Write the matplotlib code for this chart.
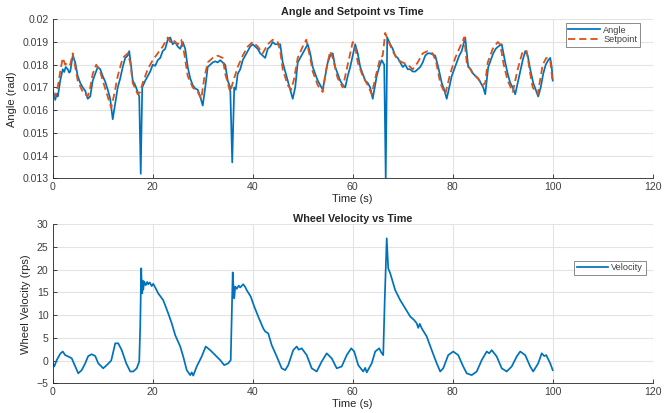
import matplotlib
matplotlib.use("Agg")
import matplotlib.pyplot as plt

# ---- data: (time s, value) ----
angle_points = [
    (0, 0.01689), (0.3, 0.01665), (0.5, 0.01645), (0.8, 0.01672), (1, 0.0166), (1.3, 0.0170),
    (1.5, 0.0173), (2, 0.0178), (2.3, 0.01768), (2.6, 0.0179), (3, 0.0178), (3.3, 0.01765),
    (3.5, 0.0177), (4, 0.0184), (4.5, 0.0181), (5, 0.0175), (5.5, 0.0172), (6, 0.0170),
    (6.5, 0.01685), (7, 0.0165), (7.5, 0.0166), (8, 0.0173), (8.5, 0.0176), (9, 0.0179),
    (9.5, 0.0178), (10, 0.0175), (10.5, 0.01725), (11, 0.0169), (11.5, 0.0165), (12, 0.0156),
    (12.5, 0.0163), (13, 0.0170), (13.5, 0.0174), (14, 0.0179), (14.5, 0.0183), (15, 0.0184),
    (15.3, 0.0186), (15.7, 0.0179), (16, 0.0173), (16.5, 0.0171), (17, 0.0168), (17.3, 0.0166),
    (17.6, 0.0132), (17.9, 0.0170), (18.2, 0.01715), (18.5, 0.0173), (19, 0.0175), (19.5, 0.0177),
    (20, 0.0180), (20.5, 0.01795), (21, 0.0182), (21.5, 0.0183), (22, 0.0186), (22.5, 0.0187),
    (23, 0.0191), (23.5, 0.0192), (24, 0.0189), (24.5, 0.0190), (25, 0.0188), (25.5, 0.0187),
    (26, 0.0190), (26.5, 0.0187), (27, 0.0179), (27.5, 0.0174), (28, 0.0171), (28.5, 0.01695),
    (29, 0.0169), (29.5, 0.0166), (30, 0.0162), (30.5, 0.0170), (31, 0.0179), (31.5, 0.0180),
    (32, 0.0181), (32.5, 0.01815), (33, 0.0181), (33.5, 0.0182), (34, 0.0181), (34.5, 0.0180),
    (35, 0.0173), (35.5, 0.0170), (35.9, 0.0137), (36.3, 0.0170), (36.6, 0.0169), (37, 0.0176),
    (37.5, 0.0178), (38, 0.0182), (38.5, 0.0184), (39, 0.0186), (39.5, 0.0188), (40, 0.0189),
    (40.5, 0.0188), (41, 0.0187), (41.5, 0.0185), (42, 0.0184), (42.5, 0.0183), (43, 0.0187),
    (43.5, 0.0188), (44, 0.0190), (44.5, 0.0189), (45, 0.0189), (45.5, 0.0189), (46, 0.0181),
    (46.5, 0.0177), (47, 0.0173), (47.5, 0.0169), (48, 0.0165), (48.5, 0.0170), (49, 0.0181),
    (49.5, 0.0183), (50, 0.0185), (50.5, 0.0187), (51, 0.0189), (51.5, 0.0185), (52, 0.0179),
    (52.5, 0.0176), (53, 0.0173), (53.5, 0.0171), (54, 0.0169), (54.5, 0.0175), (55, 0.0181),
    (55.5, 0.0184), (56, 0.0185), (56.5, 0.0179), (57, 0.0176), (57.5, 0.0173), (58, 0.0171),
    (58.5, 0.0170), (59, 0.0175), (59.5, 0.0179), (60, 0.0184), (60.5, 0.0189), (61, 0.0185),
    (61.5, 0.0179), (62, 0.0176), (62.5, 0.0173), (63, 0.0172), (63.5, 0.0170), (64, 0.0165),
    (64.4, 0.0170), (64.8, 0.0175), (65.3, 0.0179), (65.8, 0.0182), (66.3, 0.0180), (66.6, 0.0130),
    (66.9, 0.0192), (67.5, 0.0189), (68, 0.0187), (68.5, 0.0184), (69, 0.0183), (69.5, 0.0181),
    (70, 0.0179), (70.5, 0.0180), (71, 0.0178), (71.5, 0.0178), (72, 0.0177), (72.5, 0.0177),
    (73, 0.0178), (73.5, 0.0179), (74, 0.0181), (74.5, 0.0184), (75, 0.0185), (75.5, 0.0185),
    (76, 0.01845), (76.5, 0.0184), (77.1, 0.0179), (77.8, 0.0172), (78.3, 0.0169), (78.8, 0.0165),
    (79.3, 0.0170), (79.8, 0.0175), (80.3, 0.0178), (80.8, 0.0181), (81.3, 0.0184), (81.8, 0.0186),
    (82.5, 0.0192), (83.1, 0.0179), (83.6, 0.0178), (84.1, 0.0176), (84.6, 0.0175), (85.1, 0.0174),
    (85.6, 0.0172), (86.1, 0.0170), (86.5, 0.0167), (87.1, 0.0179), (87.6, 0.0182), (88.1, 0.0185),
    (88.6, 0.0187), (89.1, 0.0188), (89.8, 0.0189), (90.5, 0.0181), (91, 0.0176), (91.5, 0.0172),
    (92, 0.0170), (92.5, 0.0167), (93, 0.0172), (93.5, 0.0177), (94, 0.0182), (94.5, 0.0186),
    (95, 0.0184), (95.5, 0.0178), (96.1, 0.0172), (96.6, 0.0169), (97.1, 0.0166), (97.6, 0.0170),
    (98.1, 0.0176), (98.6, 0.0180), (99.1, 0.0182), (99.5, 0.0183), (99.8, 0.0179), (100, 0.0173),
]
angle_t = [p[0] for p in angle_points]
angle_v = [p[1] for p in angle_points]

setpoint_points = [
    (0, 0.0167), (0.5, 0.0166), (1, 0.0170), (1.5, 0.0177), (2, 0.0183), (2.5, 0.0180),
    (3, 0.0181), (3.5, 0.0180), (4, 0.0185), (4.5, 0.0179), (5, 0.0173), (6, 0.0168),
    (7, 0.0166), (7.5, 0.0170), (8, 0.0176), (8.7, 0.0180), (9.5, 0.0177), (10, 0.0173),
    (11, 0.0166), (11.7, 0.0161), (12.3, 0.0167), (13, 0.0175), (14, 0.0183), (14.5, 0.0184),
    (15, 0.0185), (15.5, 0.0181), (16, 0.0172), (17, 0.0167), (17.5, 0.0168), (18, 0.0172),
    (18.5, 0.0175), (19, 0.0178), (20, 0.0182), (21, 0.0185), (22, 0.0188), (23, 0.0192),
    (23.5, 0.0190), (24, 0.0191), (25, 0.0189), (25.7, 0.0191), (26.3, 0.0185), (27, 0.0175),
    (28, 0.0170), (29, 0.0168), (29.7, 0.0165), (30.3, 0.0174), (31, 0.0181), (32, 0.0183),
    (33, 0.0184), (34, 0.0183), (34.5, 0.0176), (35, 0.0172), (35.5, 0.0168), (36, 0.0172),
    (37, 0.0179), (38, 0.0184), (39, 0.0188), (40, 0.0190), (41, 0.0188), (42, 0.0185),
    (43, 0.0189), (44, 0.0191), (45, 0.0190), (45.5, 0.0186), (46, 0.0178), (47, 0.0171),
    (47.7, 0.0169), (48.3, 0.0174), (49, 0.0183), (50, 0.0188), (50.7, 0.0191), (51.5, 0.0183),
    (52, 0.0177), (53, 0.0171), (54, 0.0168), (54.7, 0.0178), (55.5, 0.0186), (56, 0.0183),
    (57, 0.0174), (58, 0.0170), (59, 0.0180), (60, 0.0190), (60.5, 0.0188), (61, 0.0181),
    (62, 0.0175), (63, 0.0171), (63.8, 0.0167), (64.5, 0.0174), (65.5, 0.0183), (66, 0.0184),
    (66.5, 0.0194), (67, 0.0191), (68, 0.0186), (69, 0.0182), (70, 0.0181), (71, 0.0180),
    (72, 0.0178), (73, 0.0181), (74, 0.0185), (75, 0.0186), (76, 0.0185), (76.7, 0.0181),
    (77.5, 0.0172), (78.5, 0.0167), (79.5, 0.0176), (80.5, 0.0183), (81.5, 0.0188), (82.3, 0.0192),
    (82.8, 0.0181), (84, 0.0176), (85, 0.0174), (86, 0.0171), (86.5, 0.0172), (87, 0.0181),
    (88, 0.0187), (89, 0.0190), (89.5, 0.0189), (90.2, 0.0180), (91, 0.0173), (92, 0.0168),
    (93, 0.0178), (94, 0.0186), (94.8, 0.0186), (95.5, 0.0176), (96, 0.0170), (97, 0.0167),
    (98, 0.0180), (98.7, 0.0183), (99.5, 0.0182), (100, 0.0172),
]
setpoint_t = [p[0] for p in setpoint_points]
setpoint_v = [p[1] for p in setpoint_points]

velocity_points = [
    (0, -0.6), (0.3, -1.3), (0.8, 0.1), (1.5, 1.5), (2, 2.0), (2.5, 1.2), (3.1, 0.9), (3.8, 0.5),
    (4.5, -1.3), (5.1, -2.8), (5.8, -2.1), (6.5, -0.6), (7.1, 1.0), (7.8, 1.4), (8.5, 1.0),
    (9.1, -0.6), (10.1, -1.7), (10.8, -1.0), (11.7, 0.0), (12.5, 3.8), (13.1, 3.8), (13.8, 2.3),
    (14.7, -0.6), (15.5, -2.4), (16.1, -2.4), (16.8, -1.7), (17.3, -0.2), (17.5, 7.5), (17.7, 20.3),
    (17.8, 16.0), (17.9, 14.8), (18.0, 17.6), (18.1, 15.6), (18.3, 17.4), (18.6, 16.6), (18.9, 17.3),
    (19.1, 16.8), (19.4, 17.2), (19.8, 16.4), (20.1, 16.9), (20.5, 16.1), (21.1, 14.8),
    (22.1, 13.3), (23.1, 10.4), (23.8, 8.2), (24.5, 5.6), (25.5, 3.1), (26.1, 0.9), (26.8, -2.1),
    (27.5, -3.2), (27.8, -2.6), (28.1, -3.3), (28.8, -1.3), (29.8, 0.9), (30.6, 3.1), (31.5, 2.3),
    (32.5, 1.2), (33.5, 0.1), (34.3, -1.0), (35.1, -0.6), (35.6, 0.1), (35.8, 9.7), (36.0, 19.4),
    (36.2, 15.0), (36.3, 13.7), (36.5, 16.3), (36.8, 15.8), (37.2, 16.5), (37.5, 16.1), (38.1, 16.8),
    (38.5, 16.2), (38.8, 15.5), (39.6, 14.1), (40.3, 11.9), (41.1, 9.7), (42.1, 7.1), (42.5, 6.4),
    (43.1, 6.0), (43.8, 3.4), (44.8, 0.9), (45.8, -1.7), (46.5, -2.1), (47.1, -1.0),
    (48.1, 2.3), (48.8, 3.1), (49.2, 2.4), (49.8, 2.7), (50.8, 1.2), (51.8, -1.7), (52.8, -2.4),
    (53.8, -0.2), (54.8, 1.6), (55.8, 0.5), (56.8, -1.7), (57.8, -1.3), (58.8, 1.2), (59.7, 2.7),
    (60.3, 2.0), (61.1, -1.0), (62.1, -2.4), (62.5, -1.6), (62.8, -2.6), (63.8, -0.6), (64.5, 2.0),
    (65.3, 2.7), (65.7, 1.8), (66.1, 1.2), (66.4, 13.3), (66.8, 26.9), (67.1, 20.3), (67.5, 19.2),
    (68.5, 15.5), (69.5, 13.3), (70.5, 11.5), (71.5, 9.7), (72.3, 8.9), (72.8, 8.2), (73.1, 7.2),
    (73.4, 8.1), (73.8, 7.1), (74.8, 5.3), (75.8, 2.3), (76.8, -0.6), (77.5, -2.4),
    (78.1, -1.7), (79.1, 1.2), (80.1, 2.0), (81.1, 1.2), (82.1, -1.3), (82.8, -2.8), (83.8, -3.2),
    (84.8, -2.4), (85.8, 0.1), (86.8, 2.0), (87.3, 1.6), (87.8, 2.3), (88.8, 0.9), (89.8, -1.7),
    (90.8, -2.4), (91.8, -1.3), (92.8, 0.9), (93.5, 2.0), (94.5, 1.2), (95.5, -1.3), (96.1, -2.4),
    (97.1, -0.6), (97.8, 1.6), (98.3, 1.0), (98.7, 1.2), (99.5, -0.6), (100, -2.1),
]
vel_t = [p[0] for p in velocity_points]
vel_v = [p[1] for p in velocity_points]

x_ticks = [0, 20, 40, 60, 80, 100, 120]
angle_ticks = [0.013, 0.014, 0.015, 0.016, 0.017, 0.018, 0.019, 0.02]
angle_tick_labels = ["0.013", "0.014", "0.015", "0.016", "0.017", "0.018", "0.019", "0.02"]
vel_ticks = [-5, 0, 5, 10, 15, 20, 25, 30]

BLUE = "#0072BD"
ORANGE = "#D95319"
TXT = "#262626"

plt.rcParams["font.family"] = ["Liberation Sans", "DejaVu Sans"]

fig = plt.figure(figsize=(6.7, 4.13), dpi=100)
fig.patch.set_facecolor("white")

ax1 = fig.add_axes([0.0787, 0.5683, 0.8955, 0.385])
ax2 = fig.add_axes([0.0787, 0.0719, 0.8955, 0.385])


def style(ax):
    ax.set_xlim(0, 120)
    ax.set_xticks(x_ticks)
    ax.grid(True, color="#e3e3e3", linewidth=0.8)
    ax.set_axisbelow(True)
    for s in ["top", "right"]:
        ax.spines[s].set_visible(False)
    for s in ["left", "bottom"]:
        ax.spines[s].set_color(TXT)
        ax.spines[s].set_linewidth(0.6)
    ax.tick_params(direction="in", length=3, width=0.6, colors=TXT,
                   labelsize=7.6, labelcolor="#404040", pad=3)


ax1.plot(angle_t, angle_v, color=BLUE, lw=1.25, label="Angle")
ax1.plot(setpoint_t, setpoint_v, color=ORANGE, lw=1.3, ls=(0, (4, 2.2)), label="Setpoint")
style(ax1)
ax1.set_ylim(0.013, 0.02)
ax1.set_yticks(angle_ticks)
ax1.set_yticklabels(angle_tick_labels)
ax1.set_xlabel("Time (s)", fontsize=8, color=TXT, labelpad=1)
ax1.set_ylabel("Angle (rad)", fontsize=8, color=TXT, labelpad=4)
ax1.set_title("Angle and Setpoint vs Time", fontsize=7.8, fontweight="bold", color=TXT, pad=3)
leg1 = ax1.legend(loc="upper right", bbox_to_anchor=(0.978, 0.975), fontsize=6.6, frameon=True,
                  fancybox=False, edgecolor="#555555", handlelength=3.4, borderpad=0.25,
                  labelspacing=0.1, handletextpad=0.4, borderaxespad=0)
leg1.get_frame().set_linewidth(0.6)
for t in leg1.get_texts():
    t.set_color("#404040")

ax2.plot(vel_t, vel_v, color=BLUE, lw=1.25, label="Velocity")
style(ax2)
ax2.set_ylim(-5, 30)
ax2.set_yticks(vel_ticks)
ax2.set_xlabel("Time (s)", fontsize=8, color=TXT, labelpad=1)
ax2.set_ylabel("Wheel Velocity (rps)", fontsize=8, color=TXT, labelpad=4)
ax2.set_title("Wheel Velocity vs Time", fontsize=7.8, fontweight="bold", color=TXT, pad=2)
leg2 = ax2.legend(loc="center right", bbox_to_anchor=(0.988, 0.727), fontsize=6.6, frameon=True,
                  fancybox=False, edgecolor="#555555", handlelength=3.4, borderpad=0.25,
                  handletextpad=0.4, borderaxespad=0)
leg2.get_frame().set_linewidth(0.6)
for t in leg2.get_texts():
    t.set_color("#404040")

fig.savefig("out.png", dpi=100, facecolor="white")
